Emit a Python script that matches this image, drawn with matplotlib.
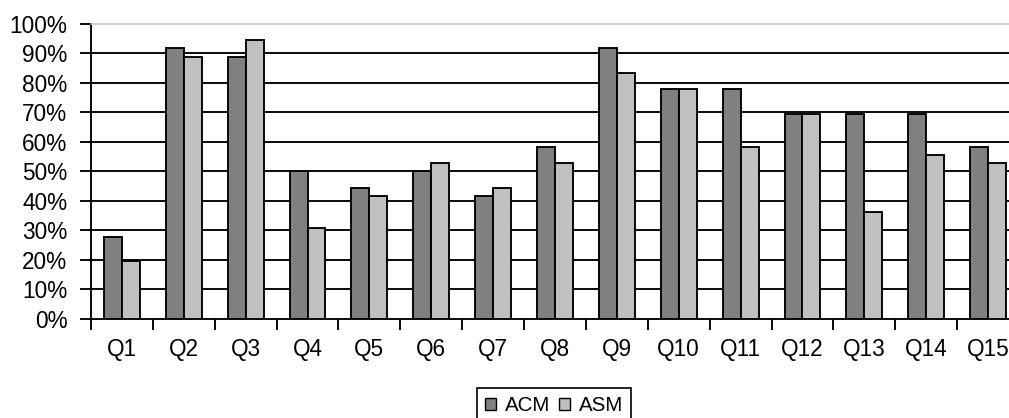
import matplotlib
matplotlib.use("Agg")
import matplotlib.pyplot as plt
from matplotlib.patches import Patch
import numpy as np

categories = ["Q1", "Q2", "Q3", "Q4", "Q5", "Q6", "Q7", "Q8", "Q9", "Q10",
              "Q11", "Q12", "Q13", "Q14", "Q15"]
acm = [27.8, 91.7, 88.9, 50.0, 44.4, 50.0, 41.7, 58.3, 91.7, 77.8,
       77.8, 69.4, 69.4, 69.4, 58.3]
asm = [19.4, 88.9, 94.4, 30.6, 41.7, 52.8, 44.4, 52.8, 83.3, 77.8,
       58.3, 69.4, 36.1, 55.6, 52.8]
series_names = ["ACM", "ASM"]
y_ticks = [0, 10, 20, 30, 40, 50, 60, 70, 80, 90, 100]
y_tick_labels = [f"{v}%" for v in y_ticks]

plt.rcParams['font.family'] = ['Liberation Sans', 'DejaVu Sans']

W, H = 1009, 418
fig = plt.figure(figsize=(W / 100, H / 100), dpi=100)
left, right, top, bottom = 91, 1019, 24, 318.5
ax = fig.add_axes([left / W, 1 - bottom / H, (right - left) / W, (bottom - top) / H])

x = np.arange(len(categories))
bw = 0.29
c_acm = "#808080"
c_asm = "#C0C0C0"
lw = 1.35
ax.bar(x - bw / 2, acm, width=bw, color=c_acm, edgecolor="black", linewidth=lw, zorder=3)
ax.bar(x + bw / 2, asm, width=bw, color=c_asm, edgecolor="black", linewidth=lw, zorder=3)

ax.set_xlim(-0.5, len(categories) - 0.5)
ax.set_ylim(0, 100)
for v in y_ticks[1:-1]:
    ax.axhline(v, color="black", linewidth=lw, zorder=1)

ax.set_yticks(y_ticks)
ax.set_yticklabels(y_tick_labels, fontsize=16.3)
ax.set_xticks(x)
ax.set_xticklabels(categories, fontsize=16.3)
ax.tick_params(axis="x", which="major", length=0, pad=14)
ax.set_xticks(np.arange(-0.5, len(categories), 1.0), minor=True)
ax.tick_params(axis="x", which="minor", length=8, width=lw, direction="out", color="black")
ax.tick_params(axis="y", length=8, width=lw, direction="out", pad=9, color="black")

for s in ["left", "bottom"]:
    ax.spines[s].set_color("black")
    ax.spines[s].set_linewidth(lw)
ax.spines["top"].set_color("#C0C0C0")
ax.spines["top"].set_linewidth(1.1)
ax.spines["right"].set_visible(False)

handles = [Patch(facecolor=c_acm, edgecolor="black", linewidth=1.0),
           Patch(facecolor=c_asm, edgecolor="black", linewidth=1.0)]
leg = fig.legend(handles, series_names, loc="upper left",
                 bbox_to_anchor=(477 / W, 1 - 388 / H), ncol=2,
                 fontsize=14.8, frameon=True, fancybox=False, framealpha=1,
                 edgecolor="black", handlelength=0.5, handleheight=0.5,
                 handletextpad=0.45, columnspacing=0.45, borderpad=0.4,
                 borderaxespad=0)
leg.get_frame().set_linewidth(1.2)

fig.savefig("out.png", dpi=100)
